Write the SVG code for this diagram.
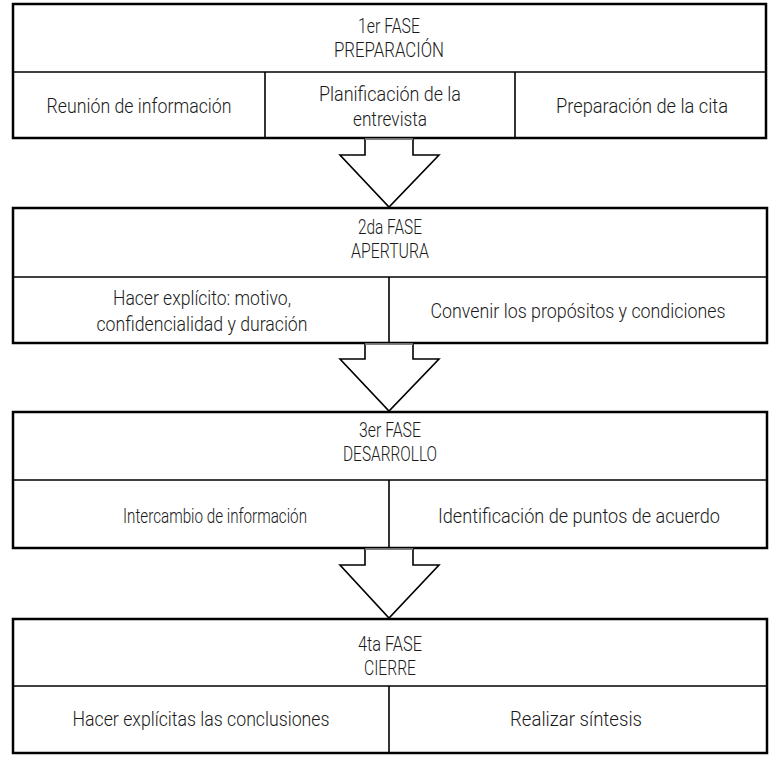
<svg xmlns="http://www.w3.org/2000/svg" width="778" height="760" viewBox="0 0 778 760">
<style>
.box{fill:#fff;stroke:#000;stroke-width:2.5}
.div{fill:none;stroke:#000;stroke-width:1.6}
.arrow{fill:#fff;stroke:#000;stroke-width:1.6;stroke-linejoin:miter}
.atop{stroke:#999;stroke-width:1.6}
text{font-family:Roboto,"Liberation Sans",Arial,sans-serif;font-weight:300;font-size:21px;fill:#1a1a1a;text-anchor:middle}
.long{font-size:20px}
</style>
<rect width="778" height="760" fill="#fff"/>
<g id="fase1">
<rect class="box" x="13" y="4" width="753" height="134"/>
<line class="div" x1="13" y1="72" x2="766" y2="72"/>
<line class="div" x1="265" y1="72" x2="265" y2="138"/>
<line class="div" x1="515" y1="72" x2="515" y2="138"/>
<text x="389" y="33" textLength="62" lengthAdjust="spacingAndGlyphs">1er FASE</text>
<text x="389" y="57" textLength="110" lengthAdjust="spacingAndGlyphs">PREPARACIÓN</text>
<text x="139" y="113" textLength="185" lengthAdjust="spacingAndGlyphs">Reunión de información</text>
<text x="390" y="101" textLength="142" lengthAdjust="spacingAndGlyphs">Planificación de la</text>
<text x="390" y="126" textLength="74" lengthAdjust="spacingAndGlyphs">entrevista</text>
<text x="642" y="113" textLength="172" lengthAdjust="spacingAndGlyphs">Preparación de la cita</text>
</g>
<g id="fase2">
<rect class="box" x="13" y="208" width="754" height="135"/>
<line class="div" x1="13" y1="277" x2="767" y2="277"/>
<line class="div" x1="389" y1="277" x2="389" y2="343"/>
<text x="390" y="234" textLength="64" lengthAdjust="spacingAndGlyphs">2da FASE</text>
<text x="390" y="258" textLength="78" lengthAdjust="spacingAndGlyphs">APERTURA</text>
<text x="202" y="305" textLength="178" lengthAdjust="spacingAndGlyphs">Hacer explícito: motivo,</text>
<text x="202" y="331" textLength="211" lengthAdjust="spacingAndGlyphs">confidencialidad y duración</text>
<text class="long" x="578" y="318" textLength="295" lengthAdjust="spacingAndGlyphs">Convenir los propósitos y condiciones</text>
</g>
<g id="fase3">
<rect class="box" x="13" y="412" width="754" height="136"/>
<line class="div" x1="13" y1="480" x2="767" y2="480"/>
<line class="div" x1="389" y1="480" x2="389" y2="548"/>
<text x="390" y="437" textLength="62" lengthAdjust="spacingAndGlyphs">3er FASE</text>
<text x="390" y="461" textLength="94" lengthAdjust="spacingAndGlyphs">DESARROLLO</text>
<text x="215" y="523" textLength="184" lengthAdjust="spacingAndGlyphs">Intercambio de información</text>
<text class="long" x="579" y="523" textLength="282" lengthAdjust="spacingAndGlyphs">Identificación de puntos de acuerdo</text>
</g>
<g id="fase4">
<rect class="box" x="13" y="619" width="754" height="134"/>
<line class="div" x1="13" y1="686" x2="767" y2="686"/>
<line class="div" x1="389" y1="686" x2="389" y2="753"/>
<text x="390" y="651" textLength="64" lengthAdjust="spacingAndGlyphs">4ta FASE</text>
<text x="390" y="675" textLength="52" lengthAdjust="spacingAndGlyphs">CIERRE</text>
<text x="201" y="726" textLength="257" lengthAdjust="spacingAndGlyphs">Hacer explícitas las conclusiones</text>
<text x="576" y="726" textLength="132" lengthAdjust="spacingAndGlyphs">Realizar síntesis</text>
</g>
<g id="connectors">
<polygon class="arrow" points="365,139 365,155 340,155 389,207 439,155 413,155 413,139"/>
<line class="atop" x1="365" y1="139" x2="413" y2="139"/>
<polygon class="arrow" points="365,344 365,359 340,359 389,411 439,359 413,359 413,344"/>
<line class="atop" x1="365" y1="344" x2="413" y2="344"/>
<polygon class="arrow" points="365,549 365,565 340,565 389,618 439,565 413,565 413,549"/>
<line class="atop" x1="365" y1="549" x2="413" y2="549"/>
</g>
</svg>
